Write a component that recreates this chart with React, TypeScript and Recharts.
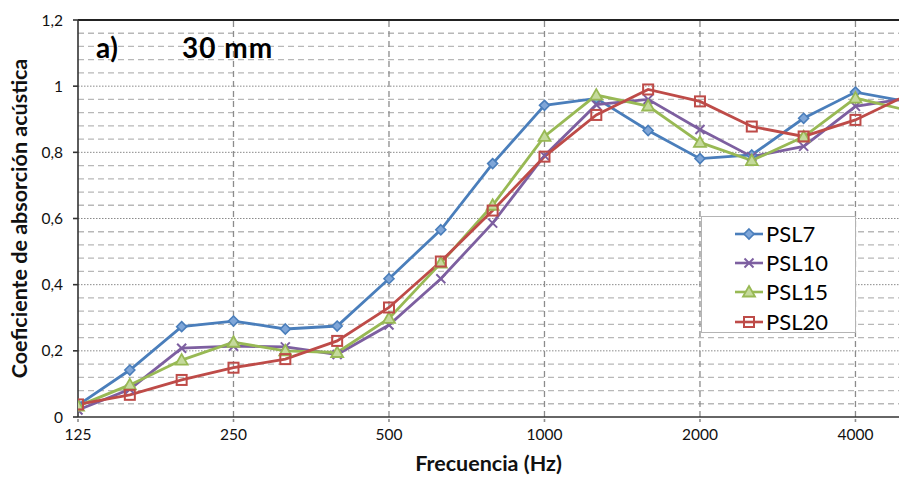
import React from 'react';
import { LineChart, Line, XAxis, YAxis, ReferenceLine, Legend } from 'recharts';

const frequencies = [125, 160, 200, 250, 315, 400, 500, 630, 800, 1000, 1250, 1600, 2000, 2500, 3150, 4000, 5000];
const psl7 = [0.036, 0.142, 0.273, 0.29, 0.266, 0.275, 0.418, 0.566, 0.766, 0.942, 0.963, 0.866, 0.781, 0.792, 0.903, 0.982, 0.953];
const psl10 = [0.021, 0.084, 0.208, 0.214, 0.212, 0.189, 0.278, 0.418, 0.586, 0.79, 0.944, 0.96, 0.869, 0.787, 0.818, 0.939, 0.963];
const psl15 = [0.033, 0.097, 0.172, 0.226, 0.2, 0.195, 0.298, 0.465, 0.64, 0.848, 0.973, 0.94, 0.83, 0.775, 0.847, 0.964, 0.927];
const psl20 = [0.038, 0.067, 0.112, 0.149, 0.175, 0.23, 0.331, 0.47, 0.624, 0.787, 0.913, 0.99, 0.954, 0.878, 0.848, 0.898, 0.973];

const seriesNames = ['PSL7', 'PSL10', 'PSL15', 'PSL20'];
const seriesColors = ['#4A7EBB', '#7D5FA0', '#98B954', '#BE4B48'];
const seriesShapes = ['diamond', 'cross', 'triangle', 'square'];
const seriesValues = [psl7, psl10, psl15, psl20];

const xTickIdx = [0, 3, 6, 9, 12, 15];
const xTickLabels = ['125', '250', '500', '1000', '2000', '4000'];
const yTicks = [0, 0.2, 0.4, 0.6, 0.8, 1, 1.2];
const yMinor = [0.04, 0.08, 0.12, 0.16, 0.24, 0.28, 0.32, 0.36, 0.44, 0.48, 0.52, 0.56, 0.64, 0.68, 0.72, 0.76, 0.84, 0.88, 0.92, 0.96, 1.04, 1.08, 1.12, 1.16];
const yMajorGrid = [0.2, 0.4, 0.6, 0.8, 1];
const xMajorGrid = [3, 6, 9, 12, 15];

const data = frequencies.map((f, i) => {
  const row: any = { idx: i, freq: f };
  seriesNames.forEach((n, k) => { row[n] = seriesValues[k][i]; });
  return row;
});

const FONT = 'Lato, "Open Sans", sans-serif';

function Marker({ shape, color, cx, cy }: { shape: string; color: string; cx: number; cy: number }) {
  if (cx == null || cy == null) return null;
  if (shape === 'diamond') {
    const s = 5;
    return <polygon points={`${cx},${cy - s} ${cx + s},${cy} ${cx},${cy + s} ${cx - s},${cy}`} fill="#7fa6d8" stroke={color} strokeWidth={1.6} />;
  }
  if (shape === 'cross') {
    const s = 4.5;
    return (
      <g stroke={color} strokeWidth={2}>
        <line x1={cx - s} y1={cy - s} x2={cx + s} y2={cy + s} />
        <line x1={cx - s} y1={cy + s} x2={cx + s} y2={cy - s} />
      </g>
    );
  }
  if (shape === 'triangle') {
    const s = 6;
    return <polygon points={`${cx},${cy - s} ${cx + s},${cy + s * 0.75} ${cx - s},${cy + s * 0.75}`} fill="#c5da9c" stroke={color} strokeWidth={1.8} />;
  }
  const s = 5;
  return <rect x={cx - s} y={cy - s} width={2 * s} height={2 * s} fill="none" stroke={color} strokeWidth={2} />;
}

function renderLegend() {
  return (
    <div style={{ width: 155, height: 117, background: '#fff', border: '1px solid #b4b4b4', boxSizing: 'border-box', paddingTop: 2 }}>
      {seriesNames.map((n, k) => (
        <div key={n} style={{ display: 'flex', alignItems: 'center', height: 29.3, paddingLeft: 32 }}>
          <svg width={30} height={16} style={{ display: 'block' }}>
            <line x1={1} y1={8} x2={29} y2={8} stroke={seriesColors[k]} strokeWidth={2.6} />
            <Marker shape={seriesShapes[k]} color={seriesColors[k]} cx={15} cy={8} />
          </svg>
          <span style={{ fontFamily: FONT, fontSize: 22, color: '#000', marginLeft: 2, lineHeight: '22px' }}>{n}</span>
        </div>
      ))}
    </div>
  );
}

export default function App() {
  return (
    <div style={{ position: 'absolute', left: 0, top: 0, width: 899, height: 477, background: '#fff', overflow: 'hidden' }}>
      <LineChart width={899} height={477} data={data} margin={{ top: 20, right: 0, left: 0, bottom: 0 }}>
        {yMinor.map((v) => (
          <ReferenceLine key={'mn' + v} y={v} stroke="#b8b8b8" strokeWidth={1.3} strokeDasharray="6 4" ifOverflow="hidden" />
        ))}
        {yMajorGrid.map((v) => (
          <ReferenceLine key={'mj' + v} y={v} stroke="#8a8a8a" strokeWidth={1} strokeDasharray="1.5 1.5" ifOverflow="hidden" />
        ))}
        {xMajorGrid.map((v) => (
          <ReferenceLine key={'vx' + v} x={v} stroke="#8c8c8c" strokeWidth={1.3} strokeDasharray="6 4" ifOverflow="hidden" />
        ))}
        <ReferenceLine y={1.2} stroke="#222" strokeWidth={2} />
        <XAxis
          type="number"
          dataKey="idx"
          domain={[0, 15.84]}
          allowDataOverflow
          ticks={xTickIdx}
          tickFormatter={(v: number) => xTickLabels[xTickIdx.indexOf(v)] ?? ''}
          interval={0}
          height={60}
          stroke="#333"
          strokeWidth={1.6}
          tickSize={5}
          tickMargin={7}
          tickLine={{ stroke: '#8c8c8c', strokeDasharray: '3 2' }}
          tick={{ fill: '#111', fontSize: 15.5, fontFamily: FONT }}
          label={{ value: 'Frecuencia (Hz)', position: 'insideBottom', offset: 6, style: { fontFamily: FONT, fontWeight: 700, fontSize: 21.5, fill: '#111' } }}
        />
        <YAxis
          type="number"
          domain={[0, 1.2]}
          ticks={yTicks}
          interval={0}
          width={78}
          allowDataOverflow
          stroke="#333"
          strokeWidth={1.6}
          tickSize={5}
          tickMargin={10}
          tick={{ fill: '#111', fontSize: 15.5, fontFamily: FONT }}
          tickFormatter={(v: number) => String(Math.round(v * 10) / 10).replace('.', ',')}
          label={{
            content: (props: any) => {
              const vb = props.viewBox || {};
              const cy = (vb.y ?? 20) + (vb.height ?? 397) / 2;
              return (
                <text x={27} y={cy} transform={`rotate(-90, 27, ${cy})`} textAnchor="middle" style={{ fontFamily: FONT, fontWeight: 700, fontSize: 21.5, fill: '#111' }}>
                  Coeficiente de absorción acústica
                </text>
              );
            },
          }}
        />
        <Legend
          layout="horizontal"
          verticalAlign="middle"
          align="center"
          content={renderLegend}
          wrapperStyle={{ position: 'absolute', left: 701, top: 216, width: 155, height: 117 }}
        />
        {seriesNames.map((n, k) => (
          <Line
            key={n}
            type="linear"
            dataKey={n}
            name={n}
            stroke={seriesColors[k]}
            strokeWidth={2.8}
            isAnimationActive={false}
            dot={(p: any) => <Marker key={n + p.index} shape={seriesShapes[k]} color={seriesColors[k]} cx={p.cx} cy={p.cy} />}
            activeDot={false}
          />
        ))}
      </LineChart>
      <div style={{ position: 'absolute', left: 96, top: 32, fontFamily: FONT, fontWeight: 700, fontSize: 28, color: '#000', lineHeight: '30px', whiteSpace: 'pre', letterSpacing: 0.5 }}>
        a)
      </div>
      <div style={{ position: 'absolute', left: 182, top: 32, fontFamily: FONT, fontWeight: 700, fontSize: 28, color: '#000', lineHeight: '30px', whiteSpace: 'pre', letterSpacing: 1 }}>
        30 mm
      </div>
    </div>
  );
}
